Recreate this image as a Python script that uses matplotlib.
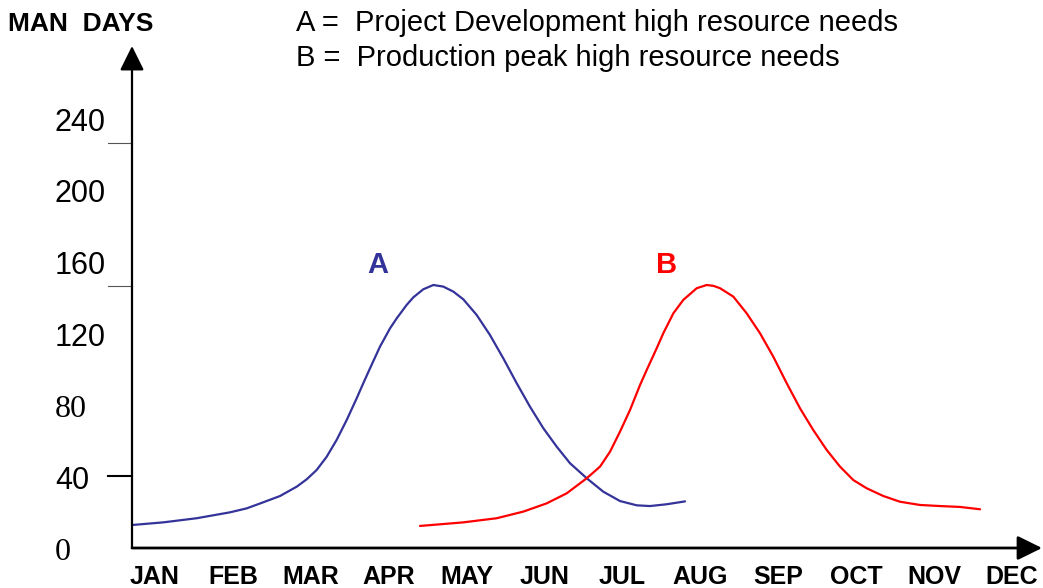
import matplotlib
matplotlib.use("Agg")
import matplotlib.pyplot as plt
import matplotlib.transforms as mtransforms

# ---- data (x in month index, 0 = JAN; y in man days) ----
months = ["JAN", "FEB", "MAR", "APR", "MAY", "JUN", "JUL", "AUG", "SEP", "OCT", "NOV", "DEC"]
y_labels = [0, 40, 80, 120, 160, 200, 240]
serif_labels = [0, 80]
extra_ticks = [226, 146, 40]

a_x = [-0.300, 0.107, 0.535, 0.963, 1.177, 1.390, 1.605, 1.819, 1.947, 2.075,
       2.204, 2.332, 2.461, 2.589, 2.674, 2.760, 2.888, 3.017, 3.103, 3.231,
       3.316, 3.444, 3.573, 3.701, 3.830, 3.958, 4.129, 4.300, 4.471, 4.643, 4.814,
       4.985, 5.157, 5.327, 5.542, 5.755, 5.969, 6.184, 6.354, 6.569, 6.804]
a_y = [12.8, 14.3, 16.6, 19.9, 22.1, 25.5, 29.0, 34.2, 38.3, 43.5,
       50.9, 60.3, 71.4, 83.5, 91.9, 100.2, 112.3, 122.5, 128.1, 135.6,
       139.8, 144.3, 146.7, 145.8, 143.0, 138.7, 130.0, 118.8, 105.8, 91.9, 78.8,
       66.8, 56.5, 47.3, 38.9, 31.4, 26.2, 23.8, 23.4, 24.4, 26.0]

b_x = [3.402, 3.958, 4.386, 4.728, 5.028, 5.285, 5.542, 5.713, 5.841, 5.969,
       6.098, 6.226, 6.312, 6.440, 6.525, 6.654, 6.782, 6.954, 7.082, 7.170, 7.253,
       7.424, 7.595, 7.766, 7.937, 8.109, 8.280, 8.450, 8.622, 8.793, 8.964,
       9.136, 9.349, 9.564, 9.820, 10.077, 10.334, 10.591]
b_y = [12.3, 14.3, 16.6, 20.3, 24.9, 30.5, 38.9, 45.4, 53.7, 64.9,
       77.0, 90.9, 99.3, 111.4, 119.8, 130.9, 138.4, 144.9, 146.7, 146.2, 144.9,
       140.2, 130.9, 119.8, 106.7, 91.9, 77.9, 65.8, 54.7, 45.4, 37.9,
       33.3, 29.0, 25.8, 24.0, 23.4, 22.9, 21.6]

legend_lines = ["A =  Project Development high resource needs",
                "B =  Production peak high resource needs"]

W, H = 1043, 588
fig = plt.figure(figsize=(W / 100, H / 100), dpi=100)
fig.patch.set_facecolor("white")

# axes from pixel x=132..1042, y=548 (bottom) .. 46 (top)
ax = fig.add_axes([132 / W, (H - 548) / H, (1042 - 132) / W, (548 - 46) / H])
ax.set_xlim(-0.295, 11.386)
ax.set_ylim(0, 280)
for s in ax.spines.values():
    s.set_visible(False)
ax.patch.set_alpha(0)

ax.plot(a_x, a_y, color="#333399", lw=1.6, solid_capstyle="round",
        solid_joinstyle="round")
ax.plot(b_x, b_y, color="#FF0000", lw=1.6, solid_capstyle="round",
        solid_joinstyle="round")

# axis arrows
ax.annotate("", xy=(1, 0), xytext=(0, 0), xycoords="axes fraction",
            arrowprops=dict(arrowstyle="-|>,head_length=0.75,head_width=0.37",
                            mutation_scale=20, color="black", lw=2.0,
                            shrinkA=0, shrinkB=0))
ax.annotate("", xy=(0, 1), xytext=(0, 0), xycoords="axes fraction",
            arrowprops=dict(arrowstyle="-|>,head_length=0.75,head_width=0.37",
                            mutation_scale=20, color="black", lw=1.6,
                            shrinkA=0, shrinkB=0))

# x tick labels
ax.set_xticks(range(len(months)))
ax.set_xticklabels(months, fontfamily="Liberation Sans", fontweight="bold", fontsize=18)
ax.tick_params(axis="x", length=0, pad=12)
ax.set_yticks([])

# y labels (left aligned at x=55 px)
trans = mtransforms.blended_transform_factory(fig.transFigure, ax.transData)
offset = mtransforms.ScaledTranslation(0, -5 / 100, fig.dpi_scale_trans)
for v in y_labels:
    serif = v in serif_labels
    fam = "Liberation Serif" if serif else "Liberation Sans"
    fig.text(55 / W, v, str(v), transform=trans + offset, ha="left", va="center",
             fontsize=23 if serif else 22, fontfamily=fam, color="black")

# small tick marks left of the y axis
tick_trans = mtransforms.blended_transform_factory(fig.transFigure, ax.transData)
for i, v in enumerate(extra_ticks):
    col = "black" if i == 2 else "#555555"
    lw = 1.5 if i == 2 else 0.8
    ax.plot([108 / W, 132 / W], [v, v], transform=tick_trans, color=col, lw=lw,
            clip_on=False)

# curve labels
ax.text(2.86, 158, "A", color="#333399", fontsize=21, fontweight="bold",
        fontfamily="Liberation Sans", ha="center", va="center")
ax.text(6.57, 158, "B", color="#FF0000", fontsize=21, fontweight="bold",
        fontfamily="Liberation Sans", ha="center", va="center")

# header texts
fig.text(8 / W, 1 - 24 / H, "MAN  DAYS", fontsize=19, fontweight="bold",
         fontfamily="Liberation Sans", ha="left", va="center")
fig.text(296 / W, 1 - 23 / H, legend_lines[0], fontsize=21,
         fontfamily="Liberation Sans", ha="left", va="center")
fig.text(296 / W, 1 - 58 / H, legend_lines[1], fontsize=21,
         fontfamily="Liberation Sans", ha="left", va="center")

fig.savefig("out.png", dpi=100, facecolor="white")
